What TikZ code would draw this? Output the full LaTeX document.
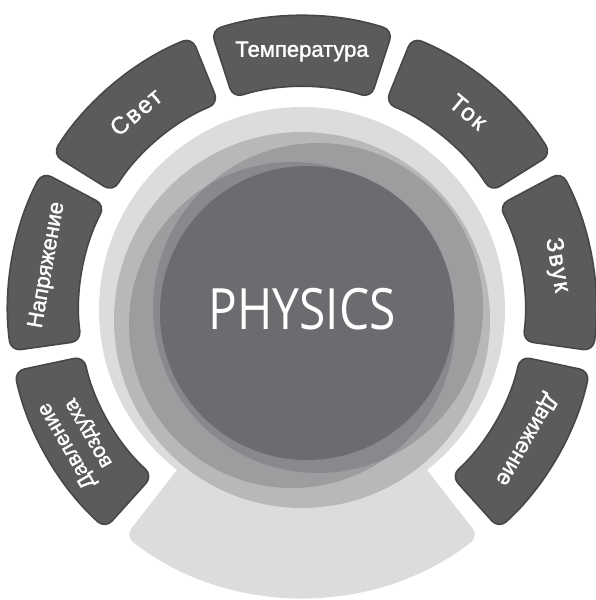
\documentclass[tikz,border=0pt]{standalone}
\usepackage{fontspec}
\setmainfont{Liberation Sans}[FakeBold=1.4]
\newfontfamily\physfont{Open Sans}
\usetikzlibrary{calc}
\definecolor{boxfill}{HTML}{5B5B5B}
\definecolor{boxedge}{HTML}{474747}
\definecolor{lightdisc}{HTML}{DCDCDC}
\definecolor{veil}{HTML}{505055}
\definecolor{coredisc}{HTML}{6B6B70}
\tikzset{
  segbox/.style={fill=boxfill, draw=boxedge, line width=1.6pt, rounded corners=10pt},
  seglabel/.style={text=white, font=\fontsize{22}{22}\selectfont, align=center, inner sep=0pt},
  shortlabel/.style={seglabel, font=\fontsize{24}{24}\selectfont\addfontfeature{LetterSpace=8}},
  veilcircle/.style={fill=veil, fill opacity=0.25},
}
\begin{document}
\begin{tikzpicture}[x=1pt,y=1pt]
\useasboundingbox (0,0) rectangle (596,-600);
\begin{scope}[shift={(302,-310)}]
  % bowl below the disc
  \fill[lightdisc, rounded corners=10pt] (0,0) -- (232:287) arc[start angle=232, end angle=308, radius=287] -- cycle;
  % light disc
  \fill[lightdisc] (0,0) circle[radius=203];
  % translucent overlapping circles
  \fill[veilcircle] (0,-10) circle[radius=188];
  \fill[veilcircle] (16,2) circle[radius=165];
  \fill[veilcircle] (-10,-15) circle[radius=163];
  \fill[coredisc] (5,-3) circle[radius=147];
  \node[text=white, inner sep=0pt] (physics) at (0,1) {\scalebox{0.84}[1]{\physfont\fontsize{57}{60}\selectfont PHYSICS}};
  % ring segments
  \foreach \ang in {90,50,10,-30,130,170,210}{
    \pgfmathsetmacro{\aone}{\ang-18}
    \pgfmathsetmacro{\atwo}{\ang+18}
    \draw[segbox] (\aone:294) arc[start angle=\aone, end angle=\atwo, radius=294] -- (\atwo:223) arc[start angle=\atwo, end angle=\aone, radius=223] -- cycle;
  }
  \foreach \ang/\txt/\nm in {90/{Температура}/temp, -30/{Движение}/dvizh, 170/{Напряжение}/napr}{
    \node[seglabel, rotate=\ang-90] (\nm) at (\ang:258.5) {\txt};
  }
  \foreach \ang/\txt/\nm in {50/{Ток}/tok, 10/{Звук}/zvuk, 130/{Свет}/svet}{
    \node[shortlabel, rotate=\ang-90] (\nm) at (\ang:258.5) {\txt};
  }
  \node[seglabel, rotate=120, font=\fontsize{21}{25}\selectfont] (davl) at (210:258.5) {Давление\\воздуха};
\end{scope}
\end{tikzpicture}
\end{document}
